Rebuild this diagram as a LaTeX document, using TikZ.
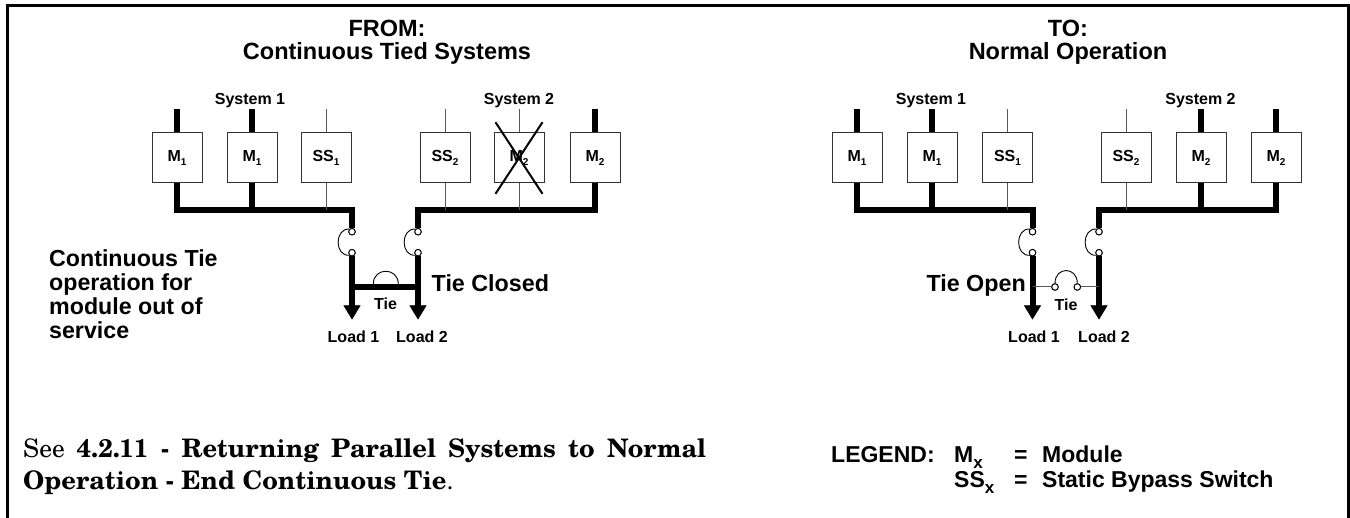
\documentclass[tikz,border=0pt]{standalone}
\usepackage{fontspec}
\setmainfont{Liberation Sans}
\newfontfamily\scholafont{TeX Gyre Schola}
\usetikzlibrary{arrows.meta}
\newcommand\fsz[1]{\fontsize{#1}{#1}\selectfont}
\newcommand\lowsub[1]{\raisebox{-3.5pt}{\fsz{10}#1}}
\newcommand\legsub[1]{\raisebox{-5.5pt}{\fsz{17}#1}}
\tikzset{
  mbox/.style={draw=black!80, line width=1pt, minimum width=50pt, minimum height=50pt, inner sep=0pt, font=\bfseries\fsz{16}},
  thickw/.style={line width=6pt, line join=miter},
  thinw/.style={line width=1pt, black!65},
  swc/.style={circle, draw, fill=white, line width=0.9pt, minimum size=6.5pt, inner sep=0pt},
  swarc/.style={line width=0.9pt},
  loadarrow/.style={line width=6pt, -{Triangle[length=14pt, width=17pt, line width=0.5pt]}},
  crossx/.style={line width=2pt},
  titlef/.style={font=\bfseries\fsz{23.5}, inner sep=0pt},
  smallf/.style={font=\bfseries\fsz{16}, inner sep=0pt},
  bigf/.style={font=\bfseries\fsz{23.3}, inner sep=0pt},
  legf/.style={font=\bfseries\fsz{23}, inner sep=0pt},
}
\begin{document}
\begin{tikzpicture}[x=1pt,y=-1pt]
\useasboundingbox (0,0) rectangle (1350,518);
% frame
\draw[line width=3pt] (7.8,518) -- (7.8,5.5) -- (1348.5,5.5) -- (1348.5,518);

% ================= LEFT (FROM) =================
\node[titlef, anchor=base] (Lti1) at (387,37) {FROM:};
\node[titlef, anchor=base] (Lti2) at (387,60) {Continuous Tied Systems};
\node[smallf] (Lsys1) at (250,101) {System 1};
\node[smallf] (Lsys2) at (519,101) {System 2};

\node[mbox] (Lm1) at (177,158) {M\lowsub{1}};
\node[mbox] (Lm2) at (252,158) {M\lowsub{1}};
\node[mbox] (Lss1) at (326,158) {SS\lowsub{1}};
\node[mbox] (Lss2) at (445,158) {SS\lowsub{2}};
\node[mbox] (Lm3) at (519,158) {M\lowsub{2}};
\node[mbox] (Lm4) at (595,158) {M\lowsub{2}};

\foreach \n/\s in {Lm1/thickw, Lm2/thickw, Lss1/thinw, Lss2/thinw, Lm3/thinw, Lm4/thickw}{
  \coordinate (\n-top) at (\n.north |- 0,109);
  \draw[\s] (\n-top) -- (\n.north);
}
\draw[crossx] ([shift={(2,-10.3)}]Lm3.north west) -- ([shift={(-2,10.3)}]Lm3.south east);
\draw[crossx] ([shift={(-2,-10.3)}]Lm3.north east) -- ([shift={(2,10.3)}]Lm3.south west);

\coordinate (Lb1) at (352,210);
\coordinate (Lb2) at (418,210);
\node[swc] (Ls1a) at (352,231.7) {};
\node[swc] (Ls1b) at (352,252.7) {};
\node[swc] (Ls2a) at (418,231.7) {};
\node[swc] (Ls2b) at (418,252.7) {};

\draw[thickw] (Lm1.south) |- (Lb1) -- (Ls1a.north);
\draw[thickw] (Lm2.south) -- (Lm2.south |- Lb1);
\draw[thinw] (Lss1.south) -- (Lss1.south |- Lb1);
\draw[thickw] (Lm4.south) |- (Lb2) -- (Ls2a.north);
\draw[thinw] (Lss2.south) -- (Lss2.south |- Lb2);
\draw[thinw] (Lm3.south) -- (Lm3.south |- Lb2);

\coordinate (Ltip1) at (352,319.5);
\coordinate (Ltip2) at (418,319.5);
\draw[loadarrow] (Ls1b.south) -- (Ltip1);
\draw[loadarrow] (Ls2b.south) -- (Ltip2);
\coordinate (Lt1) at (352,287);
\coordinate (Lt2) at (418,287);
\draw[thickw] (Lt1) -- (Lt2);
\coordinate (Lta) at (373.3,284);
\coordinate (Ltb) at (398.3,284);
\draw[swarc] (Lta) .. controls +(0,-17) and +(0,-17) .. (Ltb);
\draw[swarc] (Ls1a.north west) .. controls +(-15,-1) and +(-15,1) .. (Ls1b.south west);
\draw[swarc] (Ls2a.north west) .. controls +(-15,-1) and +(-15,1) .. (Ls2b.south west);
\node[swc] at (Ls1a) {};
\node[swc] at (Ls1b) {};
\node[swc] at (Ls2a) {};
\node[swc] at (Ls2b) {};

\node[smallf] (Ltie) at (385.5,304) {Tie};
\node[smallf] (Lload1) at (353.5,337) {Load 1};
\node[smallf] (Lload2) at (422,337) {Load 2};
\node[bigf, anchor=base west] (Lclosed) at (431.5,292) {Tie Closed};
\node[font=\bfseries\fontsize{23.2}{24}\selectfont, inner sep=0pt, anchor=north west, align=left] (Lnote) at (49,249.5) {Continuous Tie\\operation for\\module out of\\service};

% ================= RIGHT (TO) =================
\node[titlef, anchor=base] (Rti1) at (1068,37) {TO:};
\node[titlef, anchor=base] (Rti2) at (1068,60) {Normal Operation};
\node[smallf] (Rsys1) at (931,101) {System 1};
\node[smallf] (Rsys2) at (1200.5,101) {System 2};

\node[mbox] (Rm1) at (857,158) {M\lowsub{1}};
\node[mbox] (Rm2) at (932,158) {M\lowsub{1}};
\node[mbox] (Rss1) at (1007.5,158) {SS\lowsub{1}};
\node[mbox] (Rss2) at (1126,158) {SS\lowsub{2}};
\node[mbox] (Rm3) at (1201,158) {M\lowsub{2}};
\node[mbox] (Rm4) at (1276,158) {M\lowsub{2}};

\foreach \n/\s in {Rm1/thickw, Rm2/thickw, Rss1/thinw, Rss2/thinw, Rm3/thickw, Rm4/thickw}{
  \coordinate (\n-top) at (\n.north |- 0,109);
  \draw[\s] (\n-top) -- (\n.north);
}

\coordinate (Rb1) at (1032.5,210);
\coordinate (Rb2) at (1099,210);
\node[swc] (Rs1a) at (1032.5,231.7) {};
\node[swc] (Rs1b) at (1032.5,252.7) {};
\node[swc] (Rs2a) at (1099,231.7) {};
\node[swc] (Rs2b) at (1099,252.7) {};

\draw[thickw] (Rm1.south) |- (Rb1) -- (Rs1a.north);
\draw[thickw] (Rm2.south) -- (Rm2.south |- Rb1);
\draw[thinw] (Rss1.south) -- (Rss1.south |- Rb1);
\draw[thickw] (Rm4.south) |- (Rb2) -- (Rs2a.north);
\draw[thinw] (Rss2.south) -- (Rss2.south |- Rb2);
\draw[thickw] (Rm3.south) -- (Rm3.south |- Rb2);

\coordinate (Rtip1) at (1032.5,319.5);
\coordinate (Rtip2) at (1099,319.5);
\draw[loadarrow] (Rs1b.south) -- (Rtip1);
\draw[loadarrow] (Rs2b.south) -- (Rtip2);
\coordinate (Rt1) at (1032.5,287);
\coordinate (Rt2) at (1099,287);
\node[swc] (Rc1) at (1055,287) {};
\node[swc] (Rc2) at (1077.3,287) {};
\draw[thinw] (Rt1) -- (Rc1.west);
\draw[thinw] (Rc2.east) -- (Rt2);
\draw[swarc] (Rc1.north) .. controls +(0,-17) and +(0,-17) .. (Rc2.north);
\draw[swarc] (Rs1a.north west) .. controls +(-15,-1) and +(-15,1) .. (Rs1b.south west);
\draw[swarc] (Rs2a.north west) .. controls +(-15,-1) and +(-15,1) .. (Rs2b.south west);
\node[swc] at (Rs1a) {};
\node[swc] at (Rs1b) {};
\node[swc] at (Rs2a) {};
\node[swc] at (Rs2b) {};
\node[swc] at (Rc1) {};
\node[swc] at (Rc2) {};

\node[smallf] (Rtie) at (1066,305) {Tie};
\node[smallf] (Rload1) at (1034,337) {Load 1};
\node[smallf] (Rload2) at (1104,337) {Load 2};
\node[bigf, anchor=base east] (Ropen) at (1026,292) {Tie Open};

% ================= BOTTOM TEXT =================
\node[font=\scholafont\fsz{25.5}, inner sep=0pt, anchor=base west] (see) at (23,458) {\vtop{\baselineskip=31.7pt\lineskiplimit=-100pt
  \hbox{\makebox[683pt][s]{See \textbf{4.2.11 - Returning Parallel Systems to Normal}}}
  \hbox{\textbf{Operation - End Continuous Tie}.}}};

\node[legf, anchor=base west] (leg) at (831,463) {LEGEND:};
\node[legf, anchor=base west] (legm) at (954,463) {M\legsub{x}};
\node[legf, anchor=base west] (legeq1) at (1014,463) {=};
\node[legf, anchor=base west] (legmod) at (1042,463) {Module};
\node[legf, anchor=base west] (legss) at (954,488) {SS\legsub{x}};
\node[legf, anchor=base west] (legeq2) at (1014,488) {=};
\node[legf, anchor=base west] (legsw) at (1042,488) {Static Bypass Switch};
\end{tikzpicture}
\end{document}
